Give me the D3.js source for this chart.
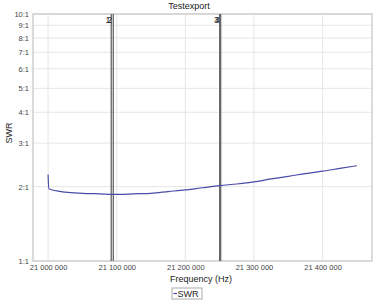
<!DOCTYPE html>
<html>
<head>
<meta charset="utf-8">
<script src="https://cdn.jsdelivr.net/npm/d3@7"></script>
<style>
  body { margin: 0; background: #fff; }
  svg { display: block; font-family: "Liberation Sans", Arial, sans-serif; }
</style>
</head>
<body>
<svg id="chart" width="375" height="300"></svg>
<script>
// measured sweep (Hz, SWR)
const freqs = [21000000, 21001000, 21025000, 21050000, 21075000, 21100000, 21125000,
  21150000, 21175000, 21200000, 21225000, 21250000, 21275000, 21300000, 21325000,
  21350000, 21375000, 21400000, 21425000, 21450000];
const swr = [2.24, 1.96, 1.90, 1.88, 1.87, 1.86, 1.87, 1.88, 1.91, 1.94, 1.98,
  2.02, 2.05, 2.09, 2.15, 2.20, 2.26, 2.31, 2.37, 2.43];

const markerNames = ["1", "2", "3", "4"];
const markerFreqs = [21092000, 21095000, 21250000, 21251500];

const xTicks = [21000000, 21100000, 21200000, 21300000, 21400000];
const yTicks = [1, 2, 3, 4, 5, 6, 7, 8, 9, 10];

const svg = d3.select('#chart');
const margin = {top: 14, right: 3, bottom: 39, left: 33};
const W = 375, H = 300;

const x = d3.scaleLinear()
    .domain([20978000, 21472000])
    .range([margin.left, W - margin.right]);
const y = d3.scaleLog()
    .domain([1, 10])
    .range([H - margin.bottom, margin.top]);

const fmt = v => d3.format(",")(v).replace(/,/g, " ");

// grid
svg.append('g')
    .selectAll('line')
    .data(xTicks)
    .join('line')
    .attr('x1', d => x(d)).attr('x2', d => x(d))
    .attr('y1', y(1)).attr('y2', y(10))
    .attr('stroke', '#e6e6e6');
svg.append('g')
    .selectAll('line')
    .data(yTicks)
    .join('line')
    .attr('x1', x.range()[0]).attr('x2', x.range()[1])
    .attr('y1', d => y(d)).attr('y2', d => y(d))
    .attr('stroke', '#e6e6e6');

// border
svg.append('rect')
    .attr('x', x.range()[0])
    .attr('y', y(10))
    .attr('width', x.range()[1] - x.range()[0])
    .attr('height', y(1) - y(10))
    .attr('fill', 'none')
    .attr('stroke', '#cfcfcf')
    .attr('stroke-width', 1.5);

// axes labels
const xAxis = d3.axisBottom(x).tickValues(xTicks).tickFormat(fmt).tickSize(0).tickPadding(4);
svg.append('g')
    .attr('transform', `translate(0,${y(1)})`)
    .call(xAxis)
    .call(g => g.select('.domain').remove())
    .selectAll('text')
    .attr('font-size', 7.5)
    .attr('fill', '#444');

const yAxis = d3.axisLeft(y).tickValues(yTicks).tickFormat(d => d + ':1').tickSize(0).tickPadding(4);
svg.append('g')
    .attr('transform', `translate(${x.range()[0]},0)`)
    .call(yAxis)
    .call(g => g.select('.domain').remove())
    .selectAll('text')
    .attr('font-size', 7.5)
    .attr('fill', '#444');

// markers
const markers = markerFreqs.map((f, i) => ({f: f, name: markerNames[i]}));
svg.append('g')
    .selectAll('line')
    .data(markers)
    .join('line')
    .attr('x1', d => x(d.f)).attr('x2', d => x(d.f))
    .attr('y1', y(10)).attr('y2', y(1))
    .attr('stroke', '#666')
    .attr('stroke-width', 1.3);
svg.append('g')
    .selectAll('text')
    .data(markers)
    .join('text')
    .attr('x', d => x(d.f) - 1)
    .attr('y', y(10) + 9)
    .attr('text-anchor', 'end')
    .attr('font-size', 8.5)
    .attr('fill', '#222')
    .text(d => d.name);

// SWR line
const pts = freqs.map((f, i) => [f, swr[i]]);
svg.append('path')
    .datum(pts)
    .attr('fill', 'none')
    .attr('stroke', '#4a4aa8')
    .attr('stroke-width', 1.2)
    .attr('d', d3.line().curve(d3.curveMonotoneX).x(d => x(d[0])).y(d => y(d[1])));

// titles
svg.append('text')
    .attr('x', 189).attr('y', 9)
    .attr('text-anchor', 'middle')
    .attr('font-size', 9)
    .attr('fill', '#222')
    .text('Testexport');
svg.append('text')
    .attr('x', 201).attr('y', 282)
    .attr('text-anchor', 'middle')
    .attr('font-size', 9)
    .attr('fill', '#222')
    .text('Frequency (Hz)');
svg.append('text')
    .attr('transform', 'translate(12,133) rotate(-90)')
    .attr('text-anchor', 'middle')
    .attr('font-size', 9)
    .attr('fill', '#222')
    .text('SWR');

// legend
const leg = svg.append('g').attr('transform', 'translate(172,288)');
leg.append('rect')
    .attr('width', 30).attr('height', 11)
    .attr('fill', '#fff')
    .attr('stroke', '#aaa');
leg.append('line')
    .attr('x1', 1.5).attr('x2', 5).attr('y1', 5.5).attr('y2', 5.5)
    .attr('stroke', '#4a4aa8').attr('stroke-width', 1.2);
leg.append('text')
    .attr('x', 5.5).attr('y', 8.8)
    .attr('font-size', 9)
    .attr('fill', '#222')
    .text('SWR');
</script>
</body>
</html>
